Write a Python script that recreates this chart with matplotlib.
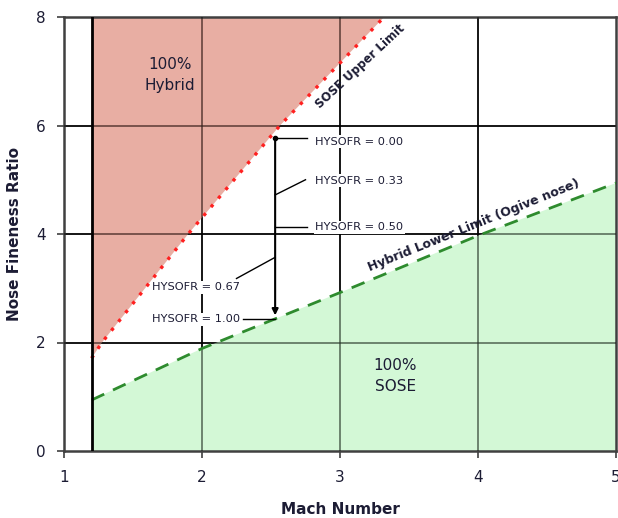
import matplotlib
matplotlib.use("Agg")
import matplotlib.pyplot as plt
import numpy as np

# ---- data ----
mach_upper = [1.2, 1.275, 1.9, 2.565, 3.32]
fr_upper = [1.71, 2.0, 4.0, 6.0, 8.0]

mach_lower = [1.2, 2.0, 3.0, 4.0, 5.0]
fr_lower = [0.94, 1.89, 2.92, 3.97, 4.94]

x_ticks = [1, 2, 3, 4, 5]
y_ticks = [0, 2, 4, 6, 8]

hysofr_values = ["0.00", "0.33", "0.50", "0.67", "1.00"]
mach_min_line = 1.2
arrow_mach = 2.53
arrow_top, arrow_bottom = 5.77, 2.5

txt_color = "#1c1c34"

fig = plt.figure(figsize=(6.18, 5.18), dpi=100)
ax = fig.add_axes([64/618, 67/518, 552/618, 434/518])
ax.set_xlim(1, 5)
ax.set_ylim(0, 8)

# grid
for xv in x_ticks[1:-1]:
    ax.axvline(xv, color="black", lw=1.2, zorder=1)
for yv in y_ticks[1:-1]:
    ax.axhline(yv, color="black", lw=1.2, zorder=1)

# fills
xu = np.array(mach_upper)
yu = np.array(fr_upper)
ax.fill(np.concatenate([xu, [mach_min_line, mach_min_line]]),
        np.concatenate([yu, [8, fr_upper[0]]]),
        color="#e39a8c", alpha=0.8, lw=0, zorder=2)
xl = np.array(mach_lower)
yl = np.array(fr_lower)
ax.fill(np.concatenate([xl, [5, mach_min_line]]),
        np.concatenate([yl, [0, 0]]),
        color="#c8f7cc", alpha=0.8, lw=0, zorder=2)
# gridlines faintly visible through fills
for xv in x_ticks[1:-1]:
    ax.axvline(xv, color="black", lw=1.1, alpha=0.45, zorder=3)
for yv in y_ticks[1:-1]:
    ax.axhline(yv, color="black", lw=1.1, alpha=0.45, zorder=3)

# boundaries
ax.plot(mach_upper, fr_upper, color="#ff2020", lw=2.4, ls=(0, (1, 2.4)),
        zorder=4)
ax.plot(mach_lower, fr_lower, color="#2e8b2e", lw=2.0, ls=(0, (5, 3.5)),
        zorder=4)
ax.plot([mach_min_line, mach_min_line], [0, 8], color="black", lw=2.0, zorder=5)

# region labels
ax.text(1.77, 6.93, "100%\nHybrid", ha="center", va="center", fontsize=11,
        color=txt_color, linespacing=1.45, zorder=6)
ax.text(3.4, 1.38, "100%\nSOSE", ha="center", va="center", fontsize=11,
        color=txt_color, linespacing=1.45, zorder=6)

ax.text(3.15, 7.08, "SOSE Upper Limit", rotation=43, ha="center", va="center",
        fontsize=8.5, fontweight="bold", color=txt_color, zorder=6,
        rotation_mode="anchor")
ax.text(3.97, 4.15, "Hybrid Lower Limit (Ogive nose)", rotation=22,
        ha="center", va="center", fontsize=9, fontweight="bold",
        color=txt_color, zorder=6, rotation_mode="anchor")

# arrow
ax.annotate("", xy=(arrow_mach, arrow_bottom), xytext=(arrow_mach, arrow_top),
            arrowprops=dict(arrowstyle="-|>", color="black", lw=1.5,
                            mutation_scale=9, shrinkA=0, shrinkB=0),
            zorder=7)
ax.plot([arrow_mach], [arrow_top], "o", color="black", ms=3, zorder=7)

# HYSOFR labels with leader lines
bbox = dict(facecolor="white", edgecolor="none", pad=1.0)
label_pos = [(2.82, 5.70), (2.82, 4.98), (2.82, 4.12), (1.64, 3.02), (1.64, 2.43)]
leader_start = [(arrow_mach, 5.77), (arrow_mach, 4.72), (arrow_mach, 4.13),
                (arrow_mach, 3.57), (arrow_mach, 2.43)]
leader_end = [(2.76, 5.77), (2.75, 5.0), (2.76, 4.13), (2.25, 3.18), (2.30, 2.43)]
for val, (tx, ty), (sx, sy), (ex, ey) in zip(hysofr_values, label_pos,
                                             leader_start, leader_end):
    ax.plot([sx, ex], [sy, ey], color="black", lw=1.0, zorder=6)
    ax.text(tx, ty, "HYSOFR = " + val, ha="left", va="center", fontsize=8.2,
            color=txt_color, bbox=bbox, zorder=8)

# axes styling
for s in ax.spines.values():
    s.set_color("#404040")
    s.set_linewidth(1.8)
ax.set_xticks(x_ticks)
ax.set_yticks(y_ticks)
ax.tick_params(axis="both", direction="out", length=5, width=1.2,
               color="#404040", labelsize=11, labelcolor=txt_color)
ax.tick_params(axis="x", pad=9)
ax.tick_params(axis="y", pad=8)
ax.set_xlabel("Mach Number", fontsize=11, fontweight="bold", color=txt_color,
              labelpad=12)
ax.set_ylabel("Nose Fineness Ratio", fontsize=11, fontweight="bold",
              color=txt_color, labelpad=10)

fig.savefig("out.png", dpi=100)
